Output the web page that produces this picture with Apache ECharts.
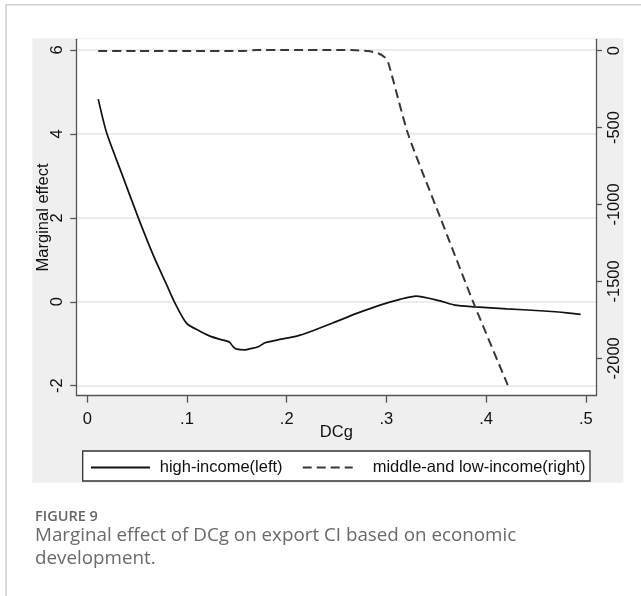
<!DOCTYPE html>
<html><head><meta charset="utf-8">
<script src="https://cdn.jsdelivr.net/npm/echarts@6/dist/echarts.min.js"></script>
<style>html,body{margin:0;padding:0;background:#fff}#c{width:641px;height:596px}</style>
</head><body><div id="c"></div>
<script>
// ---- data ----
const xTicks = [0, 0.1, 0.2, 0.3, 0.4, 0.5];
const xTickLabels = ['0', '.1', '.2', '.3', '.4', '.5'];
const leftTicks = [-2, 0, 2, 4, 6];
const rightTicks = [-2000, -1500, -1000, -500, 0];
const seriesNames = ['high-income(left)', 'middle-and low-income(right)'];

const highX = [0.011, 0.0195, 0.0345, 0.0512, 0.0669, 0.079, 0.0873, 0.0997, 0.113, 0.1231, 0.1331, 0.1424, 0.1464, 0.1499, 0.1582, 0.1632, 0.1715, 0.1782, 0.19, 0.21, 0.2234, 0.2467, 0.2702, 0.2936, 0.3136, 0.3297, 0.354, 0.3686, 0.389, 0.4207, 0.454, 0.481, 0.4948];
const highY = [4.83, 4.02, 3.06, 2.0, 1.07, 0.44, 0.0, -0.515, -0.70, -0.818, -0.896, -0.961, -1.073, -1.128, -1.144, -1.12, -1.073, -0.977, -0.913, -0.818, -0.715, -0.501, -0.277, -0.079, 0.057, 0.136, 0.02, -0.08, -0.12, -0.167, -0.214, -0.262, -0.30];

const midX = [0.011, 0.05, 0.10, 0.15, 0.16, 0.17, 0.20, 0.25, 0.265, 0.2816, 0.2916, 0.2976, 0.3016, 0.3217, 0.3538, 0.3869, 0.4217];
const midY = [-2, -2, -2, -2, 0, 4, 5, 5, 4, -2, -17, -39, -72, -542, -1081, -1632, -2174];

// ---- chart ----
const FONT = '"Liberation Sans", Arial, Helvetica, sans-serif';
const chart = echarts.init(document.getElementById('c'), null, {renderer: 'canvas'});
const axisCol = '#555';
const lbl = {color: '#111', fontSize: 16.5, fontFamily: FONT};

chart.setOption({
  animation: false,
  backgroundColor: '#fff',
  grid: {left: 76.7, right: 45, top: 39.3, bottom: 200.3, show: true, backgroundColor: '#fff', borderWidth: 0},
  xAxis: {
    type: 'value', min: -0.0106, max: 0.5102,
    name: 'DCg', nameLocation: 'middle', nameGap: 28.5, nameMoveOverlap: false,
    nameTextStyle: lbl,
    axisLine: {show: true, onZero: false, lineStyle: {color: axisCol, width: 1.3}},
    axisTick: {show: true, length: 7, customValues: xTicks, lineStyle: {color: axisCol, width: 1.3}},
    axisLabel: {margin: 15, customValues: xTicks, ...lbl, formatter: v => xTickLabels[Math.round(v * 10)]},
    splitLine: {show: false}
  },
  yAxis: [{
    type: 'value', min: -2.238, max: 6.255, position: 'left',
    name: 'Marginal effect', nameLocation: 'middle', nameGap: 25, nameRotate: 90, nameMoveOverlap: false,
    nameTextStyle: lbl,
    axisLine: {show: true, onZero: false, lineStyle: {color: axisCol, width: 1.3}},
    axisTick: {show: true, length: 6.5, customValues: leftTicks, lineStyle: {color: axisCol, width: 1.3}},
    axisLabel: {rotate: 90, margin: 11, customValues: leftTicks, ...lbl},
    splitLine: {show: true, lineStyle: {color: '#e6e6e6', width: 1.5}}
  }, {
    type: 'value', min: -2243, max: 74, position: 'right',
    axisLine: {show: true, onZero: false, lineStyle: {color: axisCol, width: 1.3}},
    axisTick: {show: true, length: 6, customValues: rightTicks, lineStyle: {color: axisCol, width: 1.3}},
    axisLabel: {rotate: 90, margin: 10, customValues: rightTicks, ...lbl, formatter: v => String(v)},
    splitLine: {show: false}
  }],
  legend: [{
    data: [seriesNames[0]], left: 90, top: 459, padding: 0,
    itemWidth: 59, itemHeight: 14, z: 10,
    itemStyle: {opacity: 0},
    textStyle: {...lbl, padding: [0, 0, 0, 4.7]}
  }, {
    data: [seriesNames[1]], left: 301.7, top: 459, padding: 0,
    itemWidth: 50, itemHeight: 14, z: 10,
    itemStyle: {opacity: 0},
    textStyle: {...lbl, padding: [0, 0, 0, 15]}
  }],
  series: [{
    name: seriesNames[0], type: 'line', yAxisIndex: 0, symbol: 'none', showSymbol: false,
    smooth: 0.25,
    data: highX.map((x, i) => [x, highY[i]]),
    lineStyle: {color: '#111', width: 1.7}, itemStyle: {color: '#111'}
  }, {
    name: seriesNames[1], type: 'line', yAxisIndex: 1, symbol: 'none', showSymbol: false,
    smooth: 0.2,
    data: midX.map((x, i) => [x, midY[i]]),
    lineStyle: {color: '#383838', width: 2, type: [9, 5]}, itemStyle: {color: '#383838'}
  }],
  graphic: [
    {type: 'rect', z: -100, silent: true, shape: {x: 32.3, y: 38.3, width: 591, height: 444.4}, style: {fill: '#efefef'}},
    {type: 'rect', z: 1, silent: true, shape: {x: 82.7, y: 451, width: 507.3, height: 30}, style: {fill: '#fff', stroke: '#333', lineWidth: 1.3}},
    {type: 'line', z: 1, silent: true, shape: {x1: 6, y1: 4.7, x2: 641, y2: 4.7}, style: {stroke: '#cfcfcf', lineWidth: 1.5}},
    {type: 'line', z: 1, silent: true, shape: {x1: 6, y1: 4, x2: 6, y2: 596}, style: {stroke: '#cfcfcf', lineWidth: 1.5}},
    {type: 'text', z: 1, silent: true, x: 35, y: 517, style: {text: 'FIGURE 9', fill: '#666', font: '600 14.5px "Open Sans", sans-serif', verticalAlign: 'middle'}},
    {type: 'text', z: 1, silent: true, x: 35, y: 535.5, style: {text: 'Marginal effect of DCg on export CI based on economic', fill: '#6a6a6a', font: '18.8px "Open Sans", sans-serif', verticalAlign: 'middle'}},
    {type: 'text', z: 1, silent: true, x: 35, y: 559, style: {text: 'development.', fill: '#6a6a6a', font: '18.8px "Open Sans", sans-serif', verticalAlign: 'middle'}}
  ]
});
</script>
</body></html>
